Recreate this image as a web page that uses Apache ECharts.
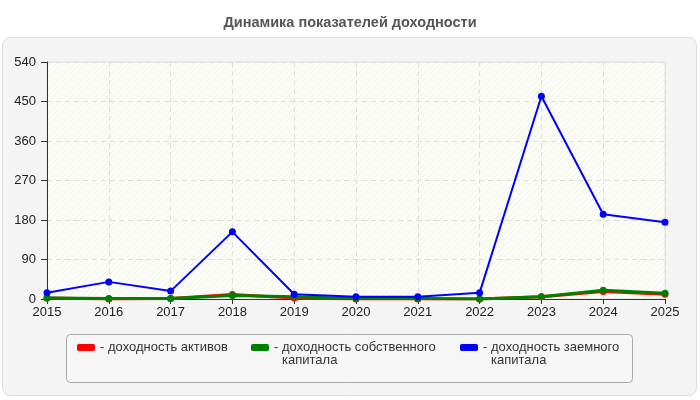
<!DOCTYPE html>
<html>
<head>
<meta charset="utf-8">
<script src="https://cdn.jsdelivr.net/npm/echarts@6/dist/echarts.min.js"></script>
<style>
    html, body { margin: 0; padding: 0; background: #fff; }
    #chart { width: 700px; height: 400px; }
</style>
</head>
<body>
<div id="chart"></div>
<script>
// data
const years = ['2015', '2016', '2017', '2018', '2019', '2020', '2021', '2022', '2023', '2024', '2025'];
const assetsYield = [2, 0, 1, 10, 2, 0, 0, 0, 5, 17, 11];
const equityYield = [2, 1, 1, 8, 5, 1, 1, 0, 5, 20, 13];
const debtYield = [14, 39, 18, 153, 11, 5, 5, 14, 462, 193, 175];
const yTicks = { min: 0, max: 540, interval: 90 };

const seriesNames = [
    'доходность активов',
    'доходность собственного\nкапитала',
    'доходность заемного\nкапитала'
];

const FONT = 'Liberation Sans, Arial, sans-serif';

// [ hatch pattern for plot background ]
function makeHatch() {
    const c = document.createElement('canvas');
    c.width = 6; c.height = 6;
    const ctx = c.getContext('2d');
    ctx.fillStyle = '#fdfdf7';
    ctx.fillRect(0, 0, 6, 6);
    ctx.strokeStyle = '#f0f0ec';
    ctx.lineWidth = 1;
    ctx.beginPath();
    ctx.moveTo(0, 6); ctx.lineTo(6, 0);
    ctx.stroke();
    return c;
}

const chart = echarts.init(document.getElementById('chart'), null, { renderer: 'canvas' });

// one legend per series, so every item can sit where it is in the picture
function legendFor(i, left, top) {
    return {
        data: [seriesNames[i]],
        left: left,
        top: top,
        padding: 0,
        orient: 'horizontal',
        itemWidth: 18,
        itemHeight: 7,
        itemGap: 0,
        selectedMode: false,
        icon: 'roundRect',
        formatter: name => {
            const lines = name.split('\n');
            let out = '{d|-}{t|' + lines[0] + '}';
            for (let k = 1; k < lines.length; k++) out += '\n{p|}{t|' + lines[k] + '}';
            // blank first line keeps the icon level with the first text line
            if (lines.length > 1) out = '{e| }\n' + out;
            return out;
        },
        textStyle: {
            fontFamily: FONT,
            fontSize: 13,
            color: '#333',
            lineHeight: 13,
            rich: {
                e: { fontSize: 13, lineHeight: 13 },
                d: { fontFamily: FONT, fontSize: 13, color: '#333', width: 8, lineHeight: 13 },
                p: { width: 8, lineHeight: 13 },
                t: { fontFamily: FONT, fontSize: 13, color: '#333', lineHeight: 13 }
            }
        }
    };
}

const option = {
    animation: false,
    backgroundColor: '#ffffff',
    title: {
        text: 'Динамика показателей доходности',
        left: 'center',
        top: 10,
        textStyle: {
            fontFamily: FONT,
            fontSize: 14.5,
            fontWeight: 'bold',
            color: '#555'
        }
    },
    graphic: [
        {
            type: 'rect',
            z: -10,
            shape: { x: 2.5, y: 37.5, width: 694, height: 358, r: 8 },
            style: { fill: '#f4f4f4', stroke: '#dcdcdc', lineWidth: 1 }
        },
        {
            type: 'rect',
            z: -9,
            shape: { x: 66.5, y: 334.5, width: 566, height: 48, r: 4 },
            style: { fill: '#f6f6f6', stroke: '#a8a8a8', lineWidth: 1 }
        }
    ],
    legend: [
        legendFor(0, 77, 341),
        legendFor(1, 251, 328),
        legendFor(2, 460, 328)
    ],
    grid: {
        left: 47,
        right: 35,
        top: 62,
        bottom: 101,
        show: true,
        backgroundColor: { image: makeHatch(), repeat: 'repeat' },
        borderColor: '#dddddd',
        borderWidth: 1
    },
    xAxis: {
        type: 'category',
        data: years,
        boundaryGap: false,
        axisLine: { lineStyle: { color: '#333', width: 1 } },
        axisTick: { show: true, length: 5, lineStyle: { color: '#333' } },
        axisLabel: {
            fontFamily: FONT,
            fontSize: 13,
            color: '#222',
            margin: 7
        },
        splitLine: { show: true, lineStyle: { color: '#dddddd', type: [5, 4] } }
    },
    yAxis: {
        type: 'value',
        min: yTicks.min,
        max: yTicks.max,
        interval: yTicks.interval,
        axisLine: { show: true, lineStyle: { color: '#333', width: 1 } },
        axisTick: { show: true, length: 6, lineStyle: { color: '#333' } },
        axisLabel: {
            fontFamily: FONT,
            fontSize: 13,
            color: '#222',
            margin: 11
        },
        splitLine: { show: true, lineStyle: { color: '#dddddd', type: [5, 4] } }
    },
    series: [
        {
            name: seriesNames[0],
            type: 'line',
            data: assetsYield,
            color: '#ff0000',
            symbol: 'circle',
            symbolSize: 7,
            lineStyle: { width: 3, color: '#ff0000' },
            z: 2
        },
        {
            name: seriesNames[1],
            type: 'line',
            data: equityYield,
            color: '#008000',
            symbol: 'circle',
            symbolSize: 7,
            lineStyle: { width: 3, color: '#008000' },
            z: 3
        },
        {
            name: seriesNames[2],
            type: 'line',
            data: debtYield,
            color: '#0000ff',
            symbol: 'circle',
            symbolSize: 7,
            lineStyle: { width: 2, color: '#0000ff' },
            z: 4
        }
    ]
};

chart.setOption(option);
</script>
</body>
</html>
